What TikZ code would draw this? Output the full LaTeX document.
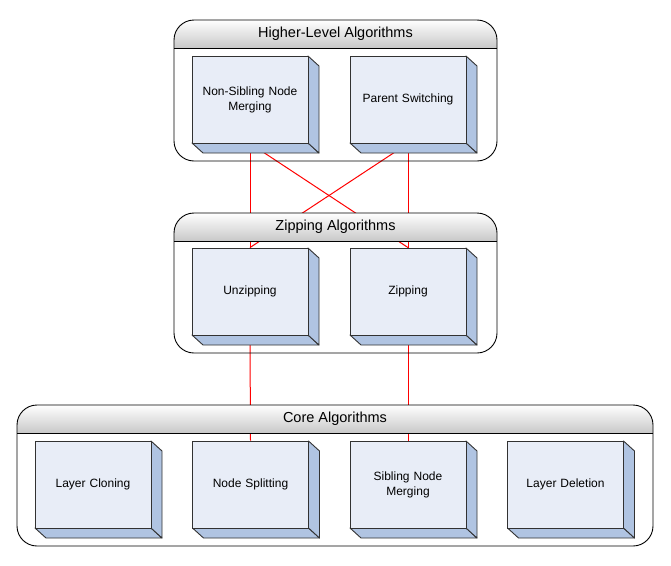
\documentclass[tikz,border=0pt]{standalone}
\usepackage{fontspec}
\setmainfont{Liberation Sans}
\usetikzlibrary{backgrounds,calc}
\definecolor{faceblue}{RGB}{232,237,247}
\definecolor{sideblue}{RGB}{176,196,226}
\definecolor{edgegray}{RGB}{50,50,50}
\definecolor{headgray}{RGB}{200,200,200}
\definecolor{linkred}{RGB}{255,0,0}
\tikzset{
  cubeface/.style={draw=edgegray, line width=0.9pt, fill=faceblue, minimum width=116pt, minimum height=87pt, inner sep=0pt, align=center, text width=108pt, font=\fontsize{12}{15}\selectfont},
  cubeside/.style={draw=edgegray, line width=0.9pt, fill=sideblue, line join=round},
  headtext/.style={font=\fontsize{14.5}{17}\selectfont, inner sep=0pt},
  linkline/.style={draw=linkred, line width=1pt},
  frameline/.style={draw=black, line width=0.9pt},
}
\newcommand\mycube[4]{%
  \draw[cubeside] ($(#2,#3)+(-58,43.5)$) -- ++(11,10) -- ++(116,0) -- ++(-11,-10) -- cycle;
  \draw[cubeside] ($(#2,#3)+(58,-43.5)$) -- ++(11,10) -- ++(0,87) -- ++(-11,-10) -- cycle;
  \node[cubeface] (#1) at (#2,#3) {#4};
}
\newcommand\mycontainer[5]{% x1, y1, x2, y2, yh
  \begin{scope}
    \clip[rounded corners=20pt] (#1,#2) rectangle (#3,#4);
    \shade[top color=white, bottom color=headgray] (#1,#2) rectangle (#3,#5);
  \end{scope}
  \draw[frameline, rounded corners=20pt] (#1,#2) rectangle (#3,#4);
  \draw[frameline] (#1,#5) -- (#3,#5);
}
\begin{document}
\begin{tikzpicture}[x=1pt,y=-1pt]
\useasboundingbox (0,0) rectangle (671,565);
% containers
\mycontainer{174}{20}{497}{161}{48}
\node[headtext] (hlat) at (335.5,34) {Higher-Level Algorithms};
\mycontainer{174}{213}{497}{353}{241}
\node[headtext] (zat) at (335.5,227) {Zipping Algorithms};
\mycontainer{17}{405}{653}{546}{433}
\node[headtext] (cat) at (335,419) {Core Algorithms};
% cubes
\mycube{nsm}{250}{99.5}{Non-Sibling Node\\Merging}
\mycube{ps}{408}{99.5}{Parent Switching}
\mycube{uz}{250}{291.5}{Unzipping}
\mycube{zp}{408}{291.5}{Zipping}
\mycube{lc}{93}{484.5}{Layer Cloning}
\mycube{ns}{250.5}{484.5}{Node Splitting}
\mycube{snm}{408}{484.5}{Sibling Node\\Merging}
\mycube{ld}{565.5}{484.5}{Layer Deletion}
% links behind
\begin{pgfonlayer}{background}
\draw[linkline] (nsm.south) -- (uz.north);
\draw[linkline] (nsm.south) -- (zp.north);
\draw[linkline] (ps.south) -- (uz.north);
\draw[linkline] (ps.south) -- (zp.north);
\draw[linkline] (uz.south) -- (ns.north);
\draw[linkline] (zp.south) -- (snm.north);
\end{pgfonlayer}
\end{tikzpicture}
\end{document}
